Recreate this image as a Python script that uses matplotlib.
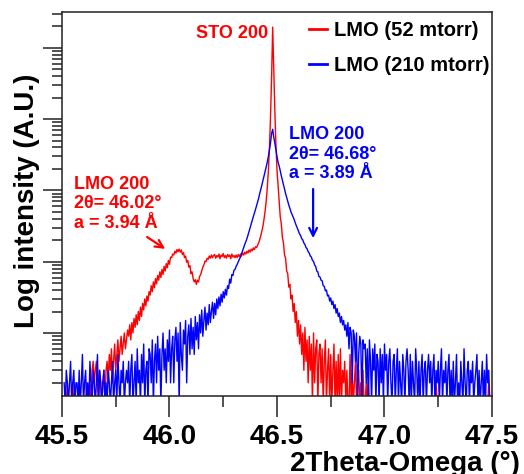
import numpy as np
import matplotlib
matplotlib.use("Agg")
import matplotlib.pyplot as plt
from matplotlib.ticker import LogLocator, NullFormatter, MultipleLocator

plt.rcParams['font.family'] = ['Liberation Sans', 'DejaVu Sans']
plt.rcParams['font.weight'] = 'bold'

# 2theta-omega scan, 45.51 -> 47.49 deg in 0.005 deg steps (20 steps per row)
scan_start = 45.51
scan_step = 0.005

# counts per step, LMO grown at 52 mtorr
counts_52 = [
    1, 1, 1, 2, 1, 1, 1, 1, 2, 1, 1, 1, 1, 1, 2, 1, 1, 1, 1, 1,
    1, 2, 1, 1, 2, 1, 3, 4, 2, 3, 4, 2, 1, 3, 2, 1, 2, 3, 1, 3,
    4, 2, 5, 3, 6, 2, 4, 7, 3, 5, 8, 4, 6, 9, 5, 7, 10, 6, 8, 11,
    9, 13, 8, 14, 10, 16, 12, 18, 13, 20, 15, 23, 17, 26, 21, 30, 24, 33, 28, 38,
    34, 46, 38, 52, 43, 58, 49, 64, 55, 72, 60, 78, 66, 86, 74, 94, 82, 104, 92, 116,
    114, 128, 124, 140, 132, 148, 138, 150, 136, 146, 126, 134, 114, 120, 98, 104, 84, 88, 68, 72,
    58, 52, 56, 48, 55, 52, 62, 66, 74, 84, 90, 102, 100, 112, 108, 120, 112, 124, 114, 122,
    126, 112, 122, 116, 128, 110, 124, 118, 130, 114, 122, 112, 126, 118, 124, 110, 128, 116, 122, 114,
    124, 114, 126, 118, 128, 120, 132, 124, 136, 128, 140, 132, 146, 136, 150, 142, 156, 148, 162, 158,
    170, 185, 205, 235, 270, 320, 400, 520, 720, 1100, 1900, 4000, 11000, 40000, 195000, 50000, 13000, 4500, 1900, 1200,
    700, 430, 340, 220, 185, 125, 112, 74, 68, 44, 48, 30, 34, 20, 26, 14, 20, 9, 15, 7,
    13, 5, 10, 3, 12, 4, 8, 2, 9, 3, 7, 1, 10, 2, 6, 8, 1, 5, 7, 2,
    6, 1, 4, 8, 1, 3, 6, 1, 5, 1, 3, 7, 1, 4, 1, 5, 1, 6, 1, 3,
    2, 4, 1, 3, 1, 1, 5, 1, 3, 1, 2, 4, 1, 2, 3, 1, 2, 1, 3, 1,
    1, 2, 1, 2, 1, 1, 1, 1, 1, 1, 1, 1, 1, 1, 1, 1, 1, 1, 1, 1,
    1, 1, 1, 1, 1, 1, 1, 1, 1, 1, 1, 1, 1, 1, 1, 1, 1, 1, 1, 1,
    1, 1, 1, 1, 1, 1, 1, 1, 1, 1, 1, 1, 1, 1, 1, 1, 1, 1, 1, 1,
    1, 1, 1, 1, 1, 1, 2, 1, 1, 1, 1, 1, 1, 1, 1, 1, 1, 1, 1, 1,
    1, 1, 1, 1, 1, 1, 1, 1, 1, 1, 1, 1, 1, 1, 1, 1, 1, 1, 1, 1,
    1, 1, 1, 1, 1, 1, 1, 1, 1, 1, 1, 1, 1, 1, 1, 2, 1,
]

# counts per step, LMO grown at 210 mtorr
counts_210 = [
    2, 1, 3, 2, 1, 2, 4, 1, 2, 3, 1, 2, 2, 1, 3, 1, 2, 5, 1, 2,
    3, 1, 2, 1, 4, 2, 1, 3, 2, 1, 2, 5, 1, 3, 2, 1, 2, 3, 1, 2,
    1, 3, 2, 1, 2, 4, 1, 2, 3, 1, 5, 2, 1, 3, 2, 4, 1, 2, 3, 2,
    4, 1, 3, 5, 1, 2, 4, 1, 6, 2, 3, 1, 5, 2, 7, 1, 3, 4, 1, 6,
    5, 2, 8, 1, 4, 7, 2, 9, 3, 6, 1, 5, 10, 3, 6, 2, 8, 4, 11, 2,
    6, 9, 2, 8, 12, 4, 10, 1, 14, 5, 3, 11, 7, 15, 2, 9, 13, 5, 16, 6,
    12, 5, 17, 8, 14, 6, 18, 10, 21, 9, 15, 23, 11, 19, 13, 25, 14, 20, 27, 16,
    26, 18, 30, 22, 32, 24, 35, 27, 38, 31, 41, 34, 46, 42, 57, 50, 66, 64, 76, 78,
    86, 92, 100, 108, 116, 128, 142, 158, 175, 190, 210, 235, 265, 300, 340, 385, 430, 480, 540, 610,
    690, 780, 915, 1040, 1200, 1380, 1600, 1850, 2150, 2500, 3000, 3700, 4700, 6300, 7200, 5600, 4600, 3700, 3000, 2500,
    2200, 1900, 1600, 1400, 1200, 1050, 900, 800, 700, 620, 560, 500, 460, 420, 390, 350, 320, 290, 265, 245,
    232, 210, 202, 183, 174, 158, 152, 138, 132, 120, 116, 104, 101, 90, 86, 74, 72, 62, 61, 55,
    54, 46, 45, 39, 40, 33, 34, 28, 31, 25, 28, 22, 25, 19, 22, 17, 19, 14, 17, 13,
    15, 11, 13, 9, 14, 6, 12, 10, 2, 11, 9, 4, 10, 1, 5, 9, 7, 1, 8, 6,
    7, 2, 6, 1, 8, 4, 1, 6, 3, 7, 1, 5, 4, 1, 6, 2, 5, 1, 7, 3,
    5, 1, 4, 6, 2, 1, 4, 5, 1, 3, 6, 1, 4, 2, 1, 5, 3, 1, 4, 6,
    3, 1, 5, 1, 4, 2, 1, 6, 3, 1, 4, 1, 3, 5, 1, 3, 4, 1, 3, 5,
    2, 4, 1, 3, 5, 1, 3, 2, 4, 1, 3, 6, 1, 3, 2, 4, 1, 3, 5, 1,
    3, 1, 4, 1, 2, 5, 1, 2, 1, 4, 2, 1, 6, 2, 1, 3, 4, 1, 3, 2,
    4, 1, 2, 3, 5, 1, 3, 1, 2, 4, 1, 3, 1, 5, 2, 3, 1,
]

series_labels = ["LMO (52 mtorr)", "LMO (210 mtorr)"]
series_colors = ["#ff0000", "#0000ff"]

two_theta = np.round(scan_start + scan_step * np.arange(len(counts_52)), 3)

fig = plt.figure(figsize=(5.24, 4.74), dpi=100)
ax = fig.add_axes([0.1183, 0.1646, 0.8206, 0.8101])

for counts, label, color in zip([counts_52, counts_210], series_labels, series_colors):
    ax.plot(two_theta, counts, color=color, lw=1.0, label=label)

ax.set_yscale("log")
ax.set_xlim(45.5, 47.5)
ax.set_ylim(1.307, 3.18e5)

# axis styling
for sp in ax.spines.values():
    sp.set_linewidth(1.1)
    sp.set_color("#222222")
ax.xaxis.set_major_locator(MultipleLocator(0.5))
ax.xaxis.set_minor_locator(MultipleLocator(0.25))
ax.yaxis.set_major_locator(LogLocator(base=10, numticks=12))
ax.yaxis.set_minor_locator(LogLocator(base=10, subs=np.arange(2, 10), numticks=12))
ax.yaxis.set_major_formatter(NullFormatter())
ax.yaxis.set_minor_formatter(NullFormatter())
ax.xaxis.set_major_formatter(plt.FuncFormatter(lambda v, p: f"{v:.1f}"))
ax.tick_params(axis="x", which="major", length=15, width=1.1, pad=5,
               labelsize=20, color="#222222")
ax.tick_params(axis="x", which="minor", length=8, width=1.1, color="#222222")
ax.tick_params(axis="y", which="major", length=13.5, width=1.1, color="#222222")
ax.tick_params(axis="y", which="minor", length=7, width=1.1, color="#222222")
for lbl in ax.get_xticklabels():
    lbl.set_fontweight("bold")

fig.text(0.992, 0.007, "2Theta-Omega (°)", ha="right", va="baseline",
         fontsize=20, fontweight="bold")
fig.text(27 / 524, 1 - 201 / 474, "Log intensity (A.U.)", rotation=90,
         ha="center", va="center", fontsize=20, fontweight="bold")

leg = ax.legend(loc="upper right", bbox_to_anchor=(0.935, 0.956),
                bbox_transform=fig.transFigure, frameon=False,
                prop={"size": 14.5, "weight": "bold"}, handlelength=0.9,
                handletextpad=0.35, labelspacing=0.8, borderpad=0,
                borderaxespad=0)
for h in leg.get_lines():
    h.set_linewidth(2.0)

# peak annotations
ax.text(0.479, 0.945, "STO 200", transform=ax.transAxes, ha="right", va="center",
        color="#ff0000", fontsize=13, fontweight="bold")
ax.text(0.028, 0.5, "LMO 200\n2θ= 46.02°\na = 3.94 Å", transform=ax.transAxes,
        ha="left", va="center", color="#ff0000", fontsize=13, fontweight="bold",
        linespacing=1.22)
ax.text(0.528, 0.630, "LMO 200\n2θ= 46.68°\na = 3.89 Å", transform=ax.transAxes,
        ha="left", va="center", color="#0000ff", fontsize=13, fontweight="bold",
        linespacing=1.22)
ax.annotate("", xy=(0.240, 0.383), xytext=(0.198, 0.414),
            xycoords="axes fraction", textcoords="axes fraction",
            arrowprops=dict(arrowstyle="->", color="#ff0000", lw=1.6,
                            mutation_scale=14, shrinkA=0, shrinkB=0))
ax.annotate("", xy=(0.584, 0.411), xytext=(0.584, 0.539),
            xycoords="axes fraction", textcoords="axes fraction",
            arrowprops=dict(arrowstyle="->", color="#0000ff", lw=1.6,
                            mutation_scale=14, shrinkA=0, shrinkB=0))

fig.savefig("out.png", dpi=100)
